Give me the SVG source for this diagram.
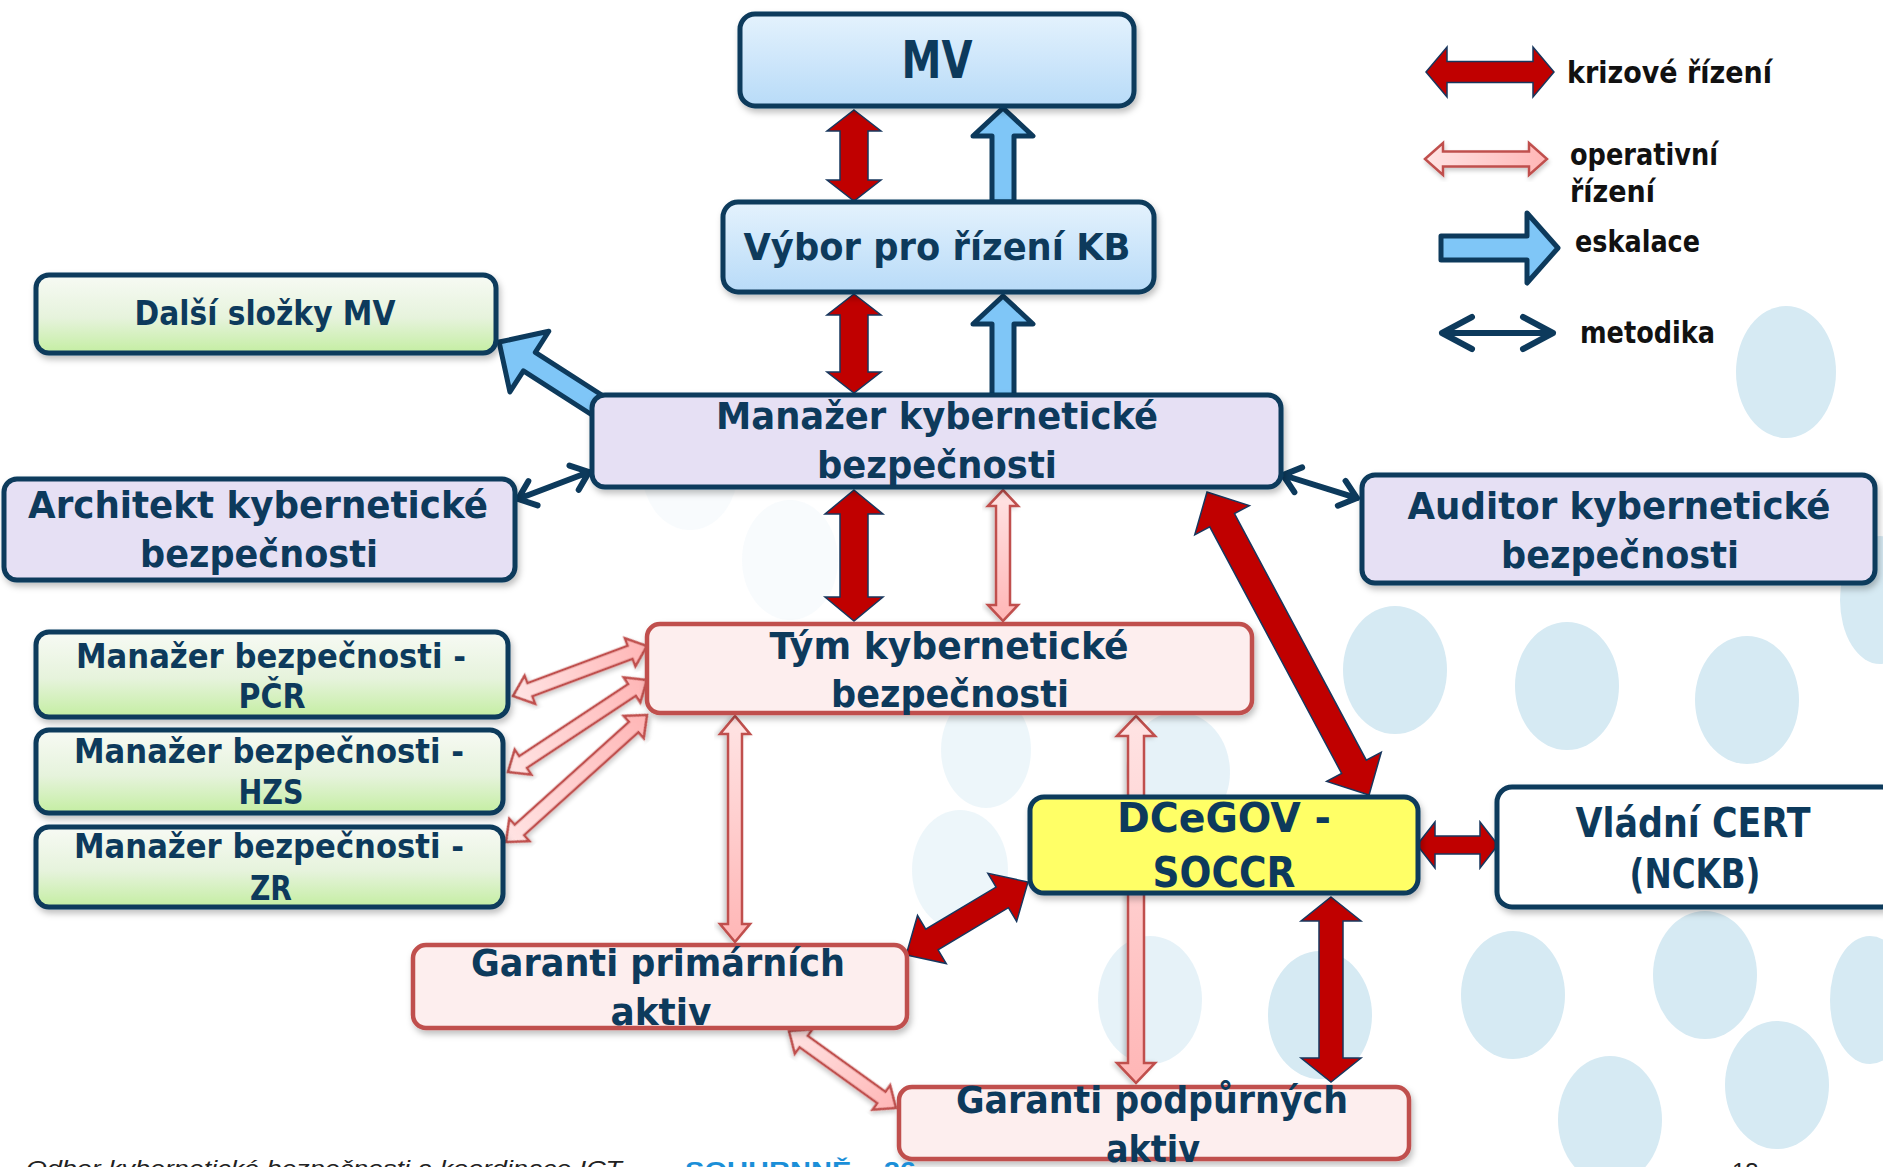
<svg xmlns="http://www.w3.org/2000/svg" width="1883" height="1167" viewBox="0 0 1883 1167">
<defs>
<style>
.t{font-family:"DejaVu Sans",sans-serif;font-weight:bold;fill:#0d3a5c;text-anchor:middle}
.lg{font-family:"DejaVu Sans",sans-serif;font-weight:bold;fill:#111}
.box{stroke:#0d3a5c;stroke-width:5;filter:url(#sh)}
.pbox{fill:#fdeeee;stroke:#c0504d;stroke-width:4.5;filter:url(#sh)}
.red{fill:#c00000;stroke:#17375e;stroke-width:1.5;stroke-linejoin:miter}
.pink{fill:url(#gPink);stroke:#c0504d;stroke-width:2.5;stroke-linejoin:miter;filter:url(#sh2)}
.blue{fill:#7fc6f7;stroke:#0d3a5c;stroke-width:5;stroke-linejoin:round}
.met{fill:none;stroke:#0d3a5c;stroke-width:6;stroke-linecap:round;stroke-linejoin:round}
.dot{fill:#d6eaf3}
</style>
<linearGradient id="gBlue" x1="0" y1="0" x2="0" y2="1"><stop offset="0" stop-color="#e4f2fd"/><stop offset="1" stop-color="#b8dbf8"/></linearGradient>
<linearGradient id="gGreen" x1="0" y1="0" x2="0" y2="1"><stop offset="0" stop-color="#f7faf4"/><stop offset="0.55" stop-color="#e6f3dc"/><stop offset="1" stop-color="#c4eea2"/></linearGradient>
<linearGradient id="gPink" x1="0" y1="0" x2="1" y2="0"><stop offset="0" stop-color="#ffe4e4"/><stop offset="1" stop-color="#ffb6b6"/></linearGradient>
<filter id="sh" x="-5%" y="-10%" width="110%" height="130%"><feDropShadow dx="2" dy="4" stdDeviation="3" flood-color="#000" flood-opacity="0.25"/></filter>
<filter id="sh2" x="-20%" y="-20%" width="140%" height="140%"><feDropShadow dx="1" dy="3" stdDeviation="2" flood-color="#000" flood-opacity="0.2"/></filter>
</defs>
<rect width="1883" height="1167" fill="#fff"/>
<g id="background">
<ellipse class="dot" cx="1786" cy="372" rx="50" ry="66"/>
<ellipse class="dot" cx="1395" cy="670" rx="52" ry="64"/>
<ellipse class="dot" cx="1567" cy="686" rx="52" ry="64"/>
<ellipse class="dot" cx="1747" cy="700" rx="52" ry="64"/>
<ellipse class="dot" cx="1880" cy="600" rx="40" ry="64"/>
<ellipse class="dot" cx="1178" cy="772" rx="52" ry="60" opacity="0.6"/>
<ellipse class="dot" cx="986" cy="750" rx="45" ry="58" opacity="0.45"/>
<ellipse class="dot" cx="1513" cy="995" rx="52" ry="64"/>
<ellipse class="dot" cx="1705" cy="975" rx="52" ry="64"/>
<ellipse class="dot" cx="1320" cy="1015" rx="52" ry="64"/>
<ellipse class="dot" cx="1150" cy="1000" rx="52" ry="64" opacity="0.6"/>
<ellipse class="dot" cx="1777" cy="1085" rx="52" ry="64"/>
<ellipse class="dot" cx="1610" cy="1120" rx="52" ry="64"/>
<ellipse class="dot" cx="1870" cy="1000" rx="40" ry="64"/>
<ellipse class="dot" cx="960" cy="870" rx="48" ry="60" opacity="0.45"/>
<ellipse class="dot" cx="690" cy="470" rx="48" ry="60" opacity="0.18"/>
<ellipse class="dot" cx="790" cy="560" rx="48" ry="60" opacity="0.18"/>
</g>
<g id="connectors">
<path class="red" transform="translate(854,110) rotate(90)" d="M0,0 L21,-27 L21,-14 L70,-14 L70,-27 L91,0 L70,27 L70,14 L21,14 L21,27 Z"/>
<path class="red" transform="translate(854,294) rotate(90)" d="M0,0 L21,-27 L21,-14 L78,-14 L78,-27 L99,0 L78,27 L78,14 L21,14 L21,27 Z"/>
<path class="red" transform="translate(854,490) rotate(90)" d="M0,0 L24,-29 L24,-14 L107,-14 L107,-29 L131,0 L107,29 L107,14 L24,14 L24,29 Z"/>
<path class="red" transform="translate(1207,492) rotate(61.86)" d="M0,0 L32,-31 L32,-14 L311.6,-14 L311.6,-31 L343.6,0 L311.6,31 L311.6,14 L32,14 L32,31 Z"/>
<path class="red" transform="translate(1331,897) rotate(90)" d="M0,0 L24,-30 L24,-12 L161,-12 L161,-30 L185,0 L161,30 L161,12 L24,12 L24,30 Z"/>
<path class="red" transform="translate(1028,882) rotate(149.1)" d="M0,0 L30,-28 L30,-12 L112,-12 L112,-28 L142,0 L112,28 L112,12 L30,12 L30,28 Z"/>
<path class="red" transform="translate(1417,845)" d="M0,0 L18,-23 L18,-9 L63,-9 L63,-23 L81,0 L63,23 L63,9 L18,9 L18,23 Z"/>
<path class="pink" transform="translate(1003,490) rotate(90)" d="M0,0 L16,-15 L16,-7 L115,-7 L115,-15 L131,0 L115,15 L115,7 L16,7 L16,15 Z"/>
<path class="pink" transform="translate(735,716) rotate(90)" d="M0,0 L18,-15 L18,-7 L208,-7 L208,-15 L226,0 L208,15 L208,7 L18,7 L18,15 Z"/>
<path class="pink" transform="translate(1136,716) rotate(90)" d="M0,0 L20,-19 L20,-8 L347,-8 L347,-19 L367,0 L347,19 L347,8 L20,8 L20,19 Z"/>
<path class="pink" transform="translate(789,1031) rotate(35.74)" d="M0,0 L18,-15 L18,-7 L113.8,-7 L113.8,-15 L131.8,0 L113.8,15 L113.8,7 L18,7 L18,15 Z"/>
<path class="pink" transform="translate(513,696) rotate(-20.46)" d="M0,0 L18,-15 L18,-7 L125,-7 L125,-15 L143,0 L125,15 L125,7 L18,7 L18,15 Z"/>
<path class="pink" transform="translate(508,772) rotate(-33.5)" d="M0,0 L18,-15 L18,-7 L148.7,-7 L148.7,-15 L166.7,0 L148.7,15 L148.7,7 L18,7 L18,15 Z"/>
<path class="pink" transform="translate(506,842) rotate(-42)" d="M0,0 L18,-15 L18,-7 L171.8,-7 L171.8,-15 L189.8,0 L171.8,15 L171.8,7 L18,7 L18,15 Z"/>
<path class="blue" transform="translate(1003,202) rotate(-90)" d="M0,-11 L66,-11 L66,-30 L94,0 L66,30 L66,11 L0,11 Z"/>
<path class="blue" transform="translate(1003,396) rotate(-90)" d="M0,-11 L72,-11 L72,-30 L100,0 L72,30 L72,11 L0,11 Z"/>
<path class="blue" transform="translate(600,407) rotate(-147.24)" d="M0,-11 L84,-11 L84,-36 L120,0 L84,36 L84,11 L0,11 Z"/>
<path class="met" transform="translate(518,499) rotate(-20.8)" d="M0,0 L76,0 M16,-13 L0,0 L16,13 M60,-13 L76,0 L60,13"/>
<path class="met" transform="translate(1283,475) rotate(17.3)" d="M0,0 L77.5,0 M16,-13 L0,0 L16,13 M61.5,-13 L77.5,0 L61.5,13"/>
</g>
<g id="nodes">
<g id="n-mv"><rect class="box" x="740" y="14" width="394" height="92" rx="15" fill="url(#gBlue)"/><text class="t" x="937" y="78" font-size="52" textLength="71" lengthAdjust="spacingAndGlyphs">MV</text></g>
<g id="n-vybor"><rect class="box" x="723" y="202" width="431" height="90" rx="15" fill="url(#gBlue)"/><text class="t" x="937" y="260" font-size="38" textLength="387" lengthAdjust="spacingAndGlyphs">Výbor pro řízení KB</text></g>
<g id="n-dalsi"><rect class="box" x="36" y="275" width="460" height="78" rx="13" fill="url(#gGreen)"/><text class="t" x="265" y="325" font-size="34" textLength="261" lengthAdjust="spacingAndGlyphs">Další složky MV</text></g>
<g id="n-manazer"><rect class="box" x="592" y="395" width="689" height="92" rx="13" fill="#e6e0f4"/><text class="t" x="937" y="429" font-size="38" textLength="442" lengthAdjust="spacingAndGlyphs">Manažer kybernetické</text><text class="t" x="937" y="478" font-size="38" textLength="240" lengthAdjust="spacingAndGlyphs">bezpečnosti</text></g>
<g id="n-architekt"><rect class="box" x="4" y="479" width="511" height="101" rx="13" fill="#e6e0f4"/><text class="t" x="258" y="518" font-size="38" textLength="460" lengthAdjust="spacingAndGlyphs">Architekt kybernetické</text><text class="t" x="259" y="567" font-size="38" textLength="238" lengthAdjust="spacingAndGlyphs">bezpečnosti</text></g>
<g id="n-auditor"><rect class="box" x="1362" y="475" width="513" height="108" rx="13" fill="#e6e0f4"/><text class="t" x="1619" y="519" font-size="38" textLength="423" lengthAdjust="spacingAndGlyphs">Auditor kybernetické</text><text class="t" x="1620" y="568" font-size="38" textLength="238" lengthAdjust="spacingAndGlyphs">bezpečnosti</text></g>
<g id="n-tym"><rect class="pbox" x="647" y="624" width="605" height="89" rx="13"/><text class="t" x="949" y="659" font-size="38" textLength="359" lengthAdjust="spacingAndGlyphs">Tým kybernetické</text><text class="t" x="950" y="707" font-size="38" textLength="238" lengthAdjust="spacingAndGlyphs">bezpečnosti</text></g>
<g id="n-pcr"><rect class="box" x="36" y="632" width="472" height="85" rx="13" fill="url(#gGreen)"/><text class="t" x="271" y="668" font-size="34" textLength="390" lengthAdjust="spacingAndGlyphs">Manažer bezpečnosti -</text><text class="t" x="272" y="708" font-size="34" textLength="67" lengthAdjust="spacingAndGlyphs">PČR</text></g>
<g id="n-hzs"><rect class="box" x="36" y="730" width="467" height="83" rx="13" fill="url(#gGreen)"/><text class="t" x="269" y="763" font-size="34" textLength="390" lengthAdjust="spacingAndGlyphs">Manažer bezpečnosti -</text><text class="t" x="271" y="804" font-size="34" textLength="65" lengthAdjust="spacingAndGlyphs">HZS</text></g>
<g id="n-zr"><rect class="box" x="36" y="827" width="467" height="80" rx="13" fill="url(#gGreen)"/><text class="t" x="269" y="858" font-size="34" textLength="390" lengthAdjust="spacingAndGlyphs">Manažer bezpečnosti -</text><text class="t" x="271" y="900" font-size="34" textLength="42" lengthAdjust="spacingAndGlyphs">ZR</text></g>
<g id="n-dcegov"><rect class="box" x="1030" y="797" width="388" height="96" rx="14" fill="#ffff66" stroke-width="7"/><text class="t" x="1224" y="832" font-size="41" textLength="214" lengthAdjust="spacingAndGlyphs">DCeGOV -</text><text class="t" x="1224" y="887" font-size="43" textLength="143" lengthAdjust="spacingAndGlyphs">SOCCR</text></g>
<g id="n-cert"><rect class="box" x="1497" y="787" width="400" height="120" rx="15" fill="#fff"/><text class="t" x="1693" y="837" font-size="40" textLength="235" lengthAdjust="spacingAndGlyphs">Vládní CERT</text><text class="t" x="1695" y="888" font-size="40" textLength="131" lengthAdjust="spacingAndGlyphs">(NCKB)</text></g>
<g id="n-gprim"><rect class="pbox" x="413" y="945" width="494" height="83" rx="13"/><text class="t" x="658" y="976" font-size="38" textLength="374" lengthAdjust="spacingAndGlyphs">Garanti primárních</text><text class="t" x="661" y="1025" font-size="38" textLength="101" lengthAdjust="spacingAndGlyphs">aktiv</text></g>
<g id="n-gpodp"><rect class="pbox" x="899" y="1087" width="510" height="72" rx="13"/><text class="t" x="1152" y="1113" font-size="38" textLength="392" lengthAdjust="spacingAndGlyphs">Garanti podpůrných</text><text class="t" x="1153" y="1162" font-size="38" textLength="94" lengthAdjust="spacingAndGlyphs">aktiv</text></g>
</g>
<g id="legend">
<path class="red" d="M1426,72 L1447,47 L1447,61.5 L1533,61.5 L1533,47 L1554,72 L1533,97 L1533,82.5 L1447,82.5 L1447,97 Z"/>
<text class="lg" x="1567" y="83" font-size="30" textLength="205" lengthAdjust="spacingAndGlyphs">krizové řízení</text>
<path class="pink" d="M1425,159 L1443,143 L1443,151.5 L1529,151.5 L1529,143 L1547,159 L1529,175 L1529,166.5 L1443,166.5 L1443,175 Z"/>
<text class="lg" x="1570" y="165" font-size="30" textLength="148" lengthAdjust="spacingAndGlyphs">operativní</text>
<text class="lg" x="1570" y="202" font-size="30" textLength="85" lengthAdjust="spacingAndGlyphs">řízení</text>
<path class="blue" d="M1441,236 L1527,236 L1527,213 L1558,248 L1527,283 L1527,260 L1441,260 Z"/>
<text class="lg" x="1575" y="252" font-size="30" textLength="125" lengthAdjust="spacingAndGlyphs">eskalace</text>
<path class="met" stroke-width="7" d="M1442,333 L1553,333 M1472,317 L1442,333 L1472,349 M1523,317 L1553,333 L1523,349"/>
<text class="lg" x="1580" y="343" font-size="30" textLength="135" lengthAdjust="spacingAndGlyphs">metodika</text>
</g>
<g id="footer">
<text x="26" y="1176" font-family="Liberation Sans, sans-serif" font-style="italic" font-size="22" fill="#222" textLength="596" lengthAdjust="spacingAndGlyphs">Odbor kybernetické bezpečnosti a koordinace ICT</text>
<text x="685" y="1179" font-family="Liberation Sans, sans-serif" font-weight="bold" font-size="24" fill="#1b8fd8" textLength="231" lengthAdjust="spacingAndGlyphs">SOUHRNNĚ – 26</text>
<text x="1732" y="1180" font-family="Liberation Sans, sans-serif" font-size="24" fill="#222">13</text>
</g>
</svg>
